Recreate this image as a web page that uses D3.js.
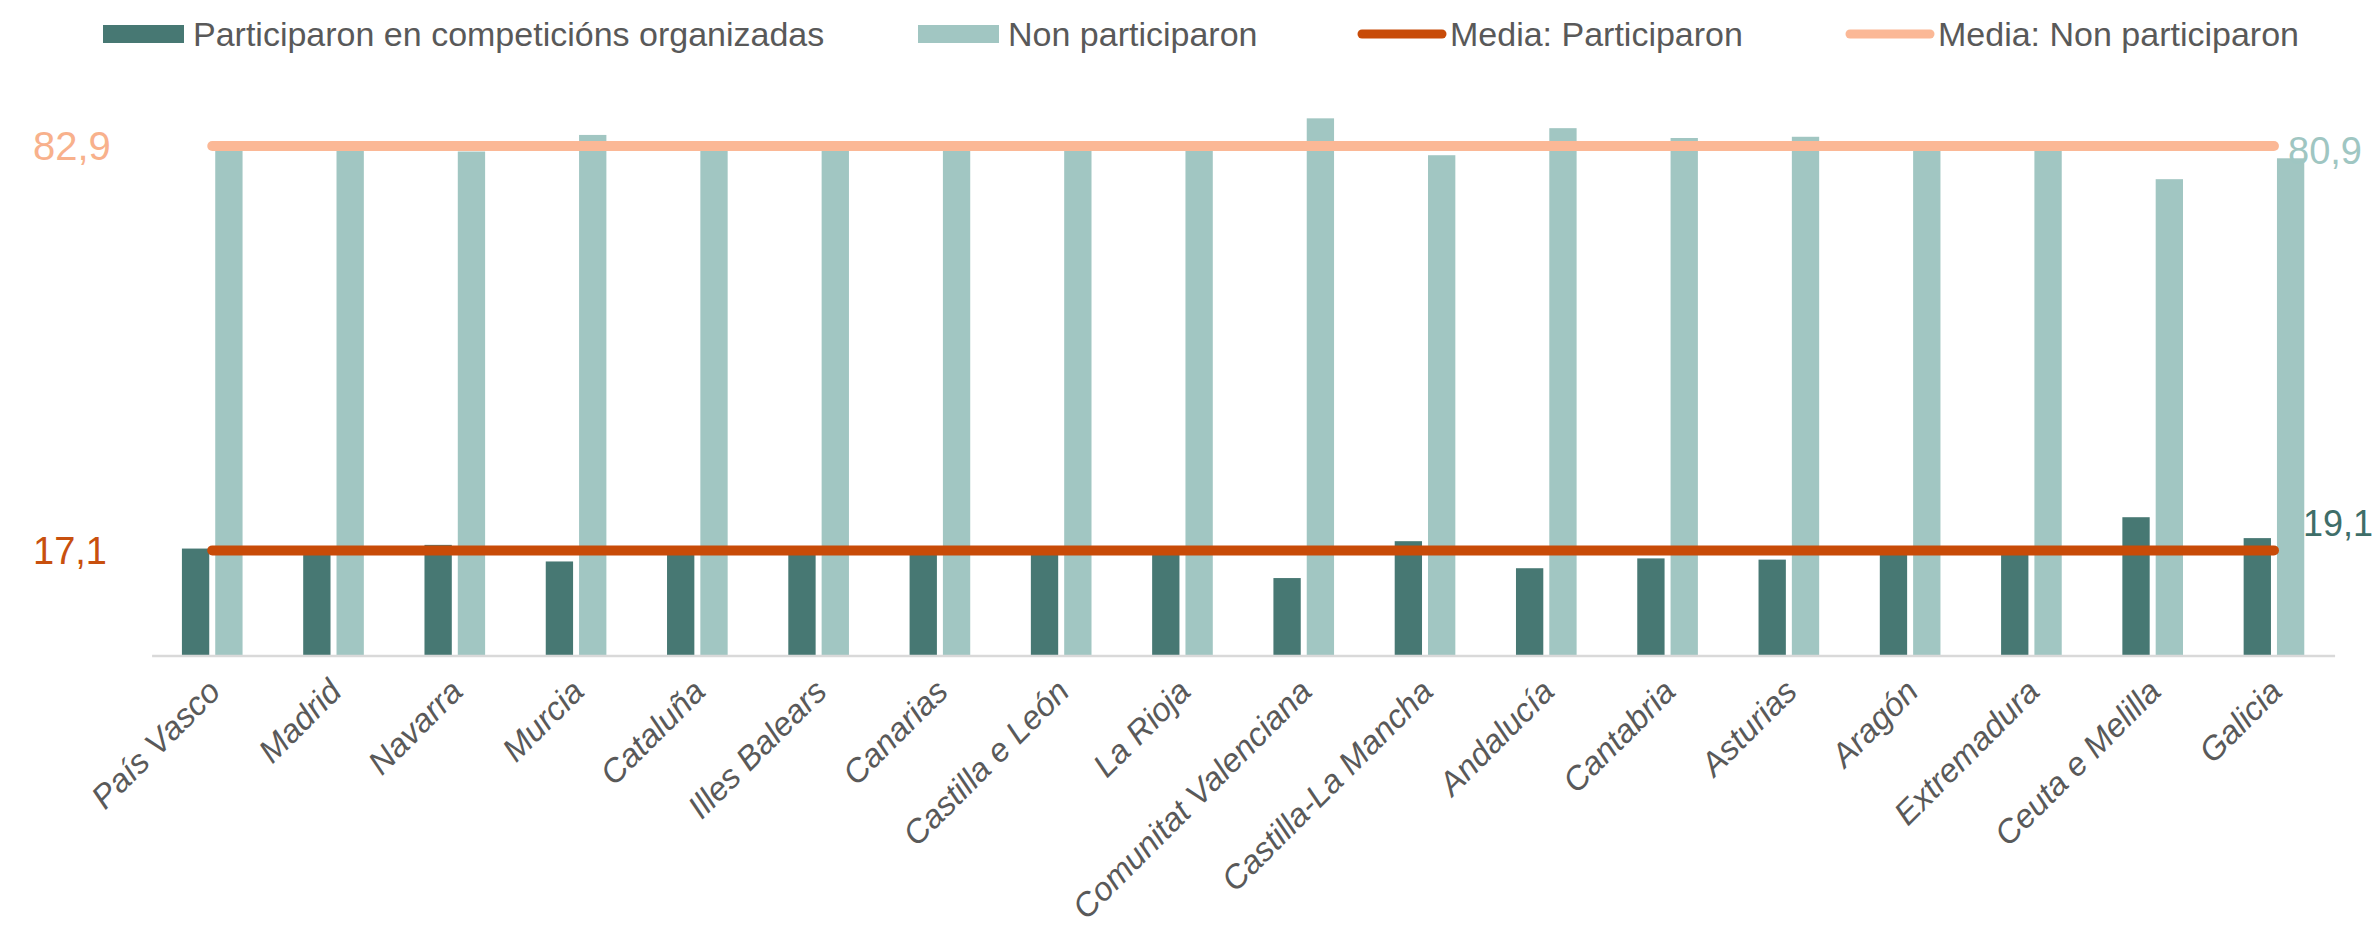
<!DOCTYPE html>
<html><head><meta charset="utf-8">
<script src="https://cdn.jsdelivr.net/npm/d3@7"></script>
<style>body{margin:0;background:#fff}svg{display:block}</style>
</head><body><svg id="c" width="2377" height="925"></svg>
<script>
const categories = ["País Vasco","Madrid","Navarra","Murcia","Cataluña","Illes Balears","Canarias","Castilla e León","La Rioja","Comunitat Valenciana","Castilla-La Mancha","Andalucía","Cantabria","Asturias","Aragón","Extremadura","Ceuta e Melilla","Galicia"];
const participaron = [17.4,17.0,18.0,15.3,17.0,16.9,16.9,17.0,17.0,12.6,18.6,14.2,15.8,15.6,17.1,17.0,22.5,19.1];
const nonParticiparon = [82.6,83.0,82.0,84.7,83.0,83.1,83.1,83.0,83.0,87.4,81.4,85.8,84.2,84.4,82.9,83.0,77.5,80.9];
const mediaParticiparon = 17.1;
const mediaNonParticiparon = 82.9;
const seriesNames = ["Participaron en competicións organizadas","Non participaron","Media: Participaron","Media: Non participaron"];

const C = {dark:"#477873", light:"#a1c6c2", orange:"#c84b08", peach:"#fbb896", text:"#595959", axis:"#d9d9d9"};
const FONT = "'Liberation Sans', Arial, sans-serif";
const fmt = v => d3.format(".1f")(v).replace(".", ",");

const svg = d3.select("#c");
const x0 = d3.scaleBand().domain(categories).range([151.6, 2334.6]).paddingInner(0.5).paddingOuter(0.25);
const x1 = d3.scaleBand().domain(["p","n"]).range([0, x0.bandwidth()]).paddingInner(0.18);
const y = d3.scaleLinear().domain([0, 100]).range([655.5, 40.9]);

const rows = categories.map((c,i)=>({c, p:participaron[i], n:nonParticiparon[i]}));

// bars
const g = svg.append("g");
g.selectAll("rect.p").data(rows).join("rect").attr("class","p")
  .attr("x", d=>x0(d.c)+x1("p")).attr("width", x1.bandwidth())
  .attr("y", d=>y(d.p)).attr("height", d=>y(0)-y(d.p)).attr("fill", C.dark);
g.selectAll("rect.n").data(rows).join("rect").attr("class","n")
  .attr("x", d=>x0(d.c)+x1("n")).attr("width", x1.bandwidth())
  .attr("y", d=>y(d.n)).attr("height", d=>y(0)-y(d.n)).attr("fill", C.light);

// x axis
const xAxis = d3.axisBottom(x0).tickSize(0).tickPadding(0);
const ax = svg.append("g").attr("transform", `translate(0,${y(0)})`).call(xAxis);
ax.select(".domain").attr("stroke", C.axis).attr("stroke-width", 2.5);
ax.selectAll(".tick text")
  .attr("font-family", FONT).attr("font-size", 33).attr("font-style","italic").attr("fill", C.text)
  .attr("text-anchor","end").attr("dy", null).attr("y", null)
  .attr("transform", "translate(10,38) rotate(-45)");

// mean lines
const xStart = x0(categories[0]) + x0.bandwidth()/2;
const xEnd = x0(categories[categories.length-1]) + x0.bandwidth()/2;
svg.append("line").attr("x1", xStart).attr("x2", xEnd)
  .attr("y1", y(mediaNonParticiparon)).attr("y2", y(mediaNonParticiparon))
  .attr("stroke", C.peach).attr("stroke-width", 10).attr("stroke-linecap","round");
svg.append("line").attr("x1", xStart).attr("x2", xEnd)
  .attr("y1", y(mediaParticiparon)).attr("y2", y(mediaParticiparon))
  .attr("stroke", C.orange).attr("stroke-width", 10).attr("stroke-linecap","round");

// value labels
const lab = (txt, xx, yy, col, fs) => svg.append("text").text(txt).attr("x", xx).attr("y", yy)
  .attr("dy","0.36em").attr("font-family", FONT).attr("font-size", fs).attr("fill", col);
lab(fmt(mediaNonParticiparon), 33, y(mediaNonParticiparon), "#f8b18c", 40);
lab(fmt(mediaParticiparon), 33, y(mediaParticiparon), "#c8500e", 38);
const last = rows[rows.length-1];
lab(fmt(last.n), 2288, y(mediaNonParticiparon)+4, "#9fc6c2", 38);
lab(fmt(last.p), 2303, 523, "#3f6e69", 36);

// legend
const legX = [103, 918, 1357, 1845];
const legend = svg.append("g");
seriesNames.forEach((name,i)=>{
  const lx = legX[i], ly = 34;
  if (i < 2) {
    legend.append("rect").attr("x", lx).attr("y", ly-9).attr("width", 81).attr("height", 18)
      .attr("fill", i===0 ? C.dark : C.light);
  } else {
    legend.append("line").attr("x1", lx+5).attr("x2", lx+85).attr("y1", ly).attr("y2", ly)
      .attr("stroke", i===2 ? C.orange : C.peach).attr("stroke-width", 9).attr("stroke-linecap","round");
  }
  legend.append("text").text(name).attr("x", lx + (i<2 ? 90 : 93)).attr("y", ly).attr("dy","0.36em")
    .attr("font-family", FONT).attr("font-size", 34).attr("fill", C.text);
});
</script></body></html>
